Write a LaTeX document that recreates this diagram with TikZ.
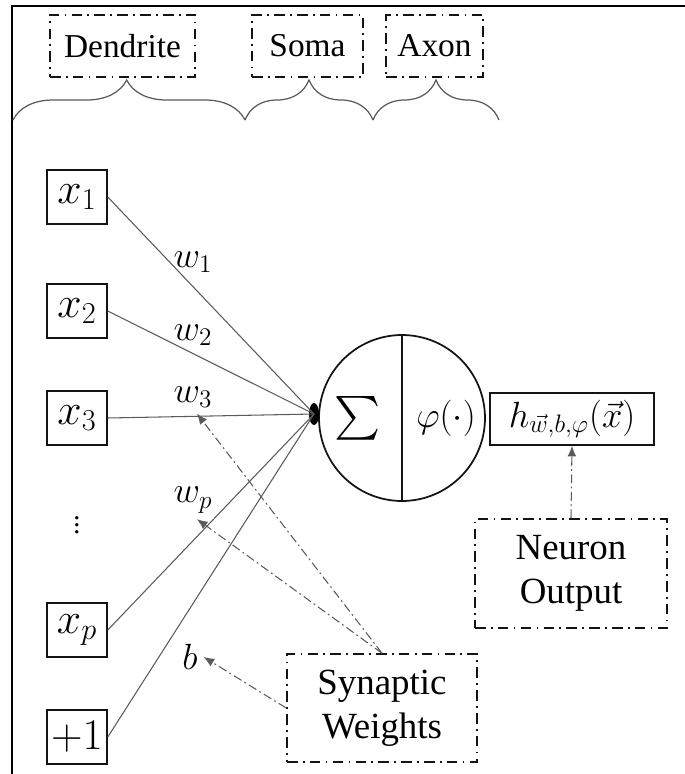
\documentclass[tikz,border=0pt]{standalone}
\usepackage{fontspec}
\setmainfont{Liberation Serif}
\usepackage{amsmath}
\usepackage{tikz}
\usetikzlibrary{shapes.geometric, arrows.meta, positioning, calc, decorations.pathreplacing}
\definecolor{mydark}{RGB}{20,20,20}
\definecolor{mygray}{RGB}{90,90,90}
\tikzset{
  inbox/.style={rectangle, draw=mydark, line width=0.9pt,
    minimum width=1.2cm, minimum height=1.08cm, inner sep=0pt,
    font=\fontsize{23}{26}\selectfont},
  tagbox/.style={rectangle, draw=mydark, line width=0.9pt,
    dash pattern=on 6pt off 3pt on 1pt off 3pt, align=center,
    inner sep=0pt, font=\fontsize{21}{25}\selectfont},
  toptag/.style={tagbox, minimum height=1.24cm, font=\fontsize{19}{22}\selectfont},
  wlabel/.style={inner sep=1pt, font=\fontsize{22}{24}\selectfont},
  link/.style={draw=mygray, line width=0.6pt},
  wlink/.style={-{Latex[length=6pt,width=5pt]}, draw=mygray, line width=0.6pt,
    dash pattern=on 5pt off 2pt on 1pt off 2pt},
  bracey/.style={decorate, decoration={brace, amplitude=0.8cm, aspect=#1},
    draw=mygray, line width=0.7pt}
}
\begin{document}
\begin{tikzpicture}[x=0.02cm, y=-0.02cm]
  \useasboundingbox (0,0) rectangle (685,774);
  % Frame
  \draw[line width=1.6pt] (12,774) -- (12,6) -- (685,6);

  % Region tags and braces
  \node[toptag, minimum width=2.9cm] (dend) at (122.5,46) {Dendrite};
  \node[toptag, minimum width=2.22cm] (soma) at (307.5,46) {Soma};
  \node[toptag, minimum width=1.94cm] (axon) at (434.5,46) {Axon};
  \draw[bracey=0.49] (13,120) -- (245,120);
  \draw[bracey=0.5] (245,120) -- (373,120);
  \draw[bracey=0.5] (373,120) -- (499,120);

  % Inputs
  \node[inbox] (x1) at (77,197) {$x_1$};
  \node[inbox] (x2) at (77,311) {$x_2$};
  \node[inbox] (x3) at (77,418) {$x_3$};
  \node[inner sep=0pt, font=\fontsize{16}{18}\selectfont] (dots) at (77,520) {$\vdots$};
  \node[inbox] (xp) at (77,630) {$x_p$};
  \node[inbox] (bias) at (77,737) {$+1$};

  % Neuron body
  \node[circle, draw=mydark, line width=1pt, minimum size=3.32cm] (cell) at (402,418) {};
  \draw[line width=1pt, color=mydark] (cell.north) -- (cell.south);
  \node[font=\fontsize{30}{32}\selectfont] (sum) at (358,418) {$\textstyle\sum$};
  \node[inner sep=1pt, font=\fontsize{22}{26}\selectfont] (act) at (446,418) {$\varphi(\cdot)$};
  \node[ellipse, fill=black, minimum width=0.2cm, minimum height=0.44cm, inner sep=0pt]
    (jn) at (314,414) {};

  % Output
  \node[rectangle, draw=mydark, line width=0.9pt, minimum width=3.28cm,
    minimum height=1.04cm, inner sep=0pt, font=\fontsize{22}{26}\selectfont]
    (out) at (572,419) {$h_{\vec{w},b,\varphi}(\vec{x})$};

  % Weighted links
  \foreach \n in {x1,x2,x3,xp,bias}
    \draw[link] (\n.east) -- (jn.center);
  \node[wlabel] (w1) at (193,262) {$w_1$};
  \node[wlabel] (w2) at (193,335) {$w_2$};
  \node[wlabel] (w3) at (193,397) {$w_3$};
  \node[wlabel] (wp) at (193,500) {$w_p$};
  \node[wlabel] (b) at (190,657) {$b$};

  % Annotations
  \node[tagbox, minimum width=3.8cm, minimum height=2.16cm] (syn) at (382,708) {Synaptic\\Weights};
  \node[tagbox, minimum width=3.84cm, minimum height=2.18cm] (nout) at (571,573.5) {Neuron\\Output};
  \draw[wlink] (syn.north) -- ($(w3.south)+(4,4)$);
  \draw[wlink] (syn.north) -- ($(wp.south)+(4,4)$);
  \draw[wlink] (syn.west) -- ($(b.east)+(4,0)$);
  \draw[wlink] (nout.north) -- (out.south);
\end{tikzpicture}
\end{document}
